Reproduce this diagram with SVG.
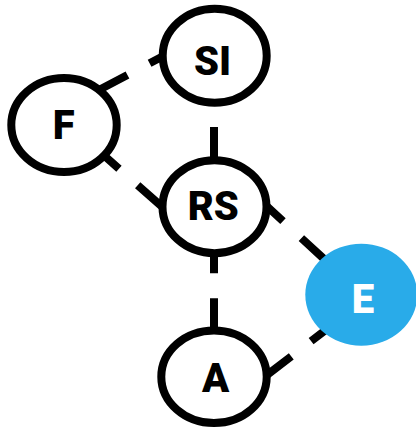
<svg xmlns="http://www.w3.org/2000/svg" width="416" height="429" viewBox="0 0 416 429">
<style>
.edge{stroke:#000;stroke-width:8;stroke-dasharray:36 25;fill:none}
.node{fill:#fff;stroke:#000;stroke-width:8}
.lbl{font-family:Roboto,"Liberation Sans",sans-serif;font-weight:900;font-size:40px;text-anchor:middle;fill:#000}
.obs{fill:#29abe9;stroke:none}
.obsl{fill:#fff}
</style>
<rect width="416" height="429" fill="#fff"/>
<g id="connectors">
<line class="edge" x1="95.6" y1="91.7" x2="181.4" y2="46.6"/>
<line class="edge" x1="92" y1="144.8" x2="164.7" y2="209.1"/>
<line class="edge" x1="214" y1="66" x2="214" y2="163"/>
<line class="edge" x1="256.5" y1="196.8" x2="327.9" y2="262.5"/>
<line class="edge" x1="214" y1="237.3" x2="214" y2="334.3"/>
<line class="edge" x1="262.7" y1="378.2" x2="339.7" y2="319.2"/>
</g>
<g id="node-SI">
<ellipse class="node" cx="214.7" cy="55.8" rx="52" ry="47"/>
<text class="lbl" x="212.5" y="75">SI</text>
</g>
<g id="node-F">
<ellipse class="node" cx="64" cy="125" rx="52.7" ry="47"/>
<text class="lbl" x="63.7" y="139.3">F</text>
</g>
<g id="node-RS">
<ellipse class="node" cx="214.5" cy="206.7" rx="52" ry="46.5"/>
<text class="lbl" x="213.3" y="220">RS</text>
</g>
<g id="node-E">
<ellipse class="obs" cx="361.3" cy="294.7" rx="56" ry="51"/>
<text class="lbl obsl" x="363" y="312.7">E</text>
</g>
<g id="node-A">
<ellipse class="node" cx="214" cy="376.8" rx="52.7" ry="46.3"/>
<text class="lbl" x="215.5" y="391.7">A</text>
</g>
</svg>
